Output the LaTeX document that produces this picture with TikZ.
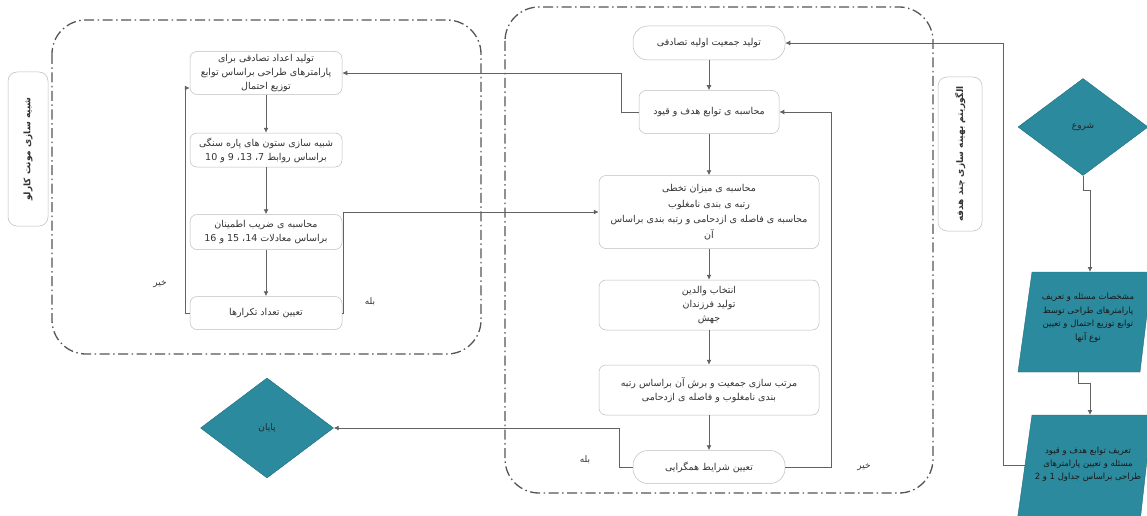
\documentclass[tikz,border=0pt]{standalone}
\usepackage{fontspec}
\usetikzlibrary{shapes.geometric,arrows.meta,calc}
\TeXXeTstate=1
\newfontfamily\arabicfont[Script=Arabic]{DejaVu Sans}
\newcommand{\rtl}[1]{\beginR #1\endR}
\definecolor{tealc}{HTML}{2B8A9E}
\definecolor{linec}{HTML}{626262}
\definecolor{boxc}{HTML}{BDBDBD}
\definecolor{framec}{HTML}{555555}
\begin{document}
\begin{tikzpicture}[x=1pt,y=-1pt,
  every node/.style={font=\arabicfont\fontsize{9.5}{14}\selectfont, text=black!80},
  box/.style={draw=boxc, line width=0.5pt, rounded corners=7pt, align=center, inner sep=1pt, fill=white},
  pill/.style={box, rounded corners=15pt},
  conn/.style={draw=linec, line width=0.9pt},
  arr/.style={conn, -{Latex[length=5pt,width=5pt]}},
  frame/.style={draw=framec, line width=1.3pt, rounded corners=34pt, dash pattern=on 10pt off 3.5pt on 1.5pt off 3.5pt},
  tealshape/.style={fill=tealc, draw=tealc!80!black, line width=0.4pt},
  lbl/.style={font=\arabicfont\fontsize{9}{10}\selectfont},
  side/.style={draw=boxc, line width=0.5pt, rounded corners=9pt},
  sidetext/.style={rotate=90, font=\arabicfont\bfseries\fontsize{9}{10}\selectfont},
  tealtext/.style={align=center, text=black!90}
]
\useasboundingbox (0,0) rectangle (1147,516);
\fill[white] (0,0) rectangle (1147,516);
\clip (0,0) rectangle (1147,516);

% frames
\draw[frame] (52,20) rectangle (481,354);
\draw[frame] (505,7) rectangle (933,493);

% side labels
\draw[side] (8,72) rectangle (48,226);
\node[sidetext] (lblL) at (28,149) {\rtl{شبیه سازی مونت کارلو}};
\draw[side] (938,77) rectangle (982,231);
\node[sidetext] (lblR) at (960,154) {\rtl{الگوریتم بهینه سازی چند هدفه}};

% left column
\node[box, minimum width=152pt, minimum height=43pt] (b1) at (266,73)
  {\rtl{تولید اعداد تصادفی برای}\\\rtl{پارامترهای طراحی براساس توابع}\\\rtl{توزیع احتمال}};
\node[box, minimum width=152pt, minimum height=34pt] (b2) at (266,150)
  {\rtl{شبیه سازی ستون های پاره سنگی}\\\rtl{براساس روابط 7، 13، 9 و 10}};
\node[box, minimum width=152pt, minimum height=35pt] (b3) at (266,232)
  {\rtl{محاسبه ی ضریب اطمینان}\\\rtl{براساس معادلات 14، 15 و 16}};
\node[box, minimum width=152pt, minimum height=33pt] (b4) at (266,313)
  {\rtl{تعیین تعداد تکرارها}};

% middle column
\node[pill, minimum width=152pt, minimum height=34pt] (m1) at (709,43)
  {\rtl{تولید جمعیت اولیه تصادفی}};
\node[box, minimum width=140pt, minimum height=43pt] (m2) at (709,112)
  {\rtl{محاسبه ی توابع هدف و قیود}};
\node[box, minimum width=220pt, minimum height=73pt, font=\arabicfont\fontsize{9.5}{15.5}\selectfont] (m3) at (709,212)
  {\rtl{محاسبه ی میزان تخطی}\\\rtl{رتبه ی بندی نامغلوب}\\\rtl{محاسبه ی فاصله ی ازدحامی و رتبه بندی براساس}\\\rtl{آن}};
\node[box, minimum width=220pt, minimum height=50pt] (m4) at (709,305)
  {\rtl{انتخاب والدین}\\\rtl{تولید فرزندان}\\\rtl{جهش}};
\node[box, minimum width=220pt, minimum height=50pt] (m5) at (709,390)
  {\rtl{مرتب سازی جمعیت و برش آن براساس رتبه}\\\rtl{بندی نامغلوب و فاصله ی ازدحامی}};
\node[pill, minimum width=152pt, minimum height=33pt] (m6) at (709,467)
  {\rtl{تعیین شرایط همگرایی}};

% teal shapes
\node[diamond, tealshape, minimum width=130pt, minimum height=97pt, inner sep=0pt, text=black!85, font=\arabicfont\fontsize{9}{10}\selectfont] (start) at (1083,127) {\rtl{شروع}};
\node[diamond, tealshape, minimum width=133pt, minimum height=100pt, inner sep=0pt, text=black!85, font=\arabicfont\fontsize{9}{10}\selectfont] (end) at (267,428) {\rtl{پایان}};

\draw[tealshape] (1032,272) -- (1152,272) -- (1140,372) -- (1018,372) -- cycle;
\node[tealtext, font=\arabicfont\fontsize{8.5}{13.5}\selectfont] (p1t) at (1088,318)
  {\rtl{مشخصات مسئله و تعریف}\\\rtl{پارامترهای طراحی توسط}\\\rtl{توابع توزیع احتمال و تعیین}\\\rtl{نوع آنها}};
\draw[tealshape] (1032,415) -- (1152,415) -- (1140,522) -- (1017,522) -- cycle;
\node[tealtext, font=\arabicfont\fontsize{8.5}{13}\selectfont] (p2t) at (1088,464)
  {\rtl{تعریف توابع هدف و قیود}\\\rtl{مسئله و تعیین پارامترهای}\\\rtl{طراحی براساس جداول 1 و 2}};
\coordinate (p1n) at (1090,272);
\coordinate (p1s) at (1078,372);
\coordinate (p2n) at (1090,415);
\coordinate (p2w) at (1025,465);

% connectors left
\draw[arr] (b1.south) -- (b2.north);
\draw[arr] (b2.south) -- (b3.north);
\draw[arr] (b3.south) -- (b4.north);
\draw[arr] (b4.west) -- ++(-4,0) |- ([yshift=-15pt]b1.west);
\draw[arr] (b4.east) -- ++(1,0) |- (m3.west);
\draw[arr] (m2.west) -- ++(-17,0) |- (b1.east);

% connectors middle
\draw[arr] (m1.south) -- (m2.north);
\draw[arr] (m2.south) -- (m3.north);
\draw[arr] (m3.south) -- (m4.north);
\draw[arr] (m4.south) -- (m5.north);
\draw[arr] (m5.south) -- (m6.north);
\draw[arr] (m6.east) -- ++(46,0) |- (m2.east);
\draw[arr] (m6.west) -- ++(-13,0) |- (end.east);

% connectors right
\draw[arr] (p2w) -- ++(-22,0) |- (m1.east);
\draw[arr] (start.south) -- ++(0,15) -- ++(7,0) -- (p1n);
\draw[arr] (p1s) -- ++(0,11) -- ++(12,0) -- (p2n);

% labels
\node[lbl] (no1) at (160,284) {\rtl{خیر}};
\node[lbl] (yes1) at (370,302) {\rtl{بله}};
\node[lbl] (yes2) at (585,460) {\rtl{بله}};
\node[lbl] (no2) at (864,467) {\rtl{خیر}};
\end{tikzpicture}
\end{document}
